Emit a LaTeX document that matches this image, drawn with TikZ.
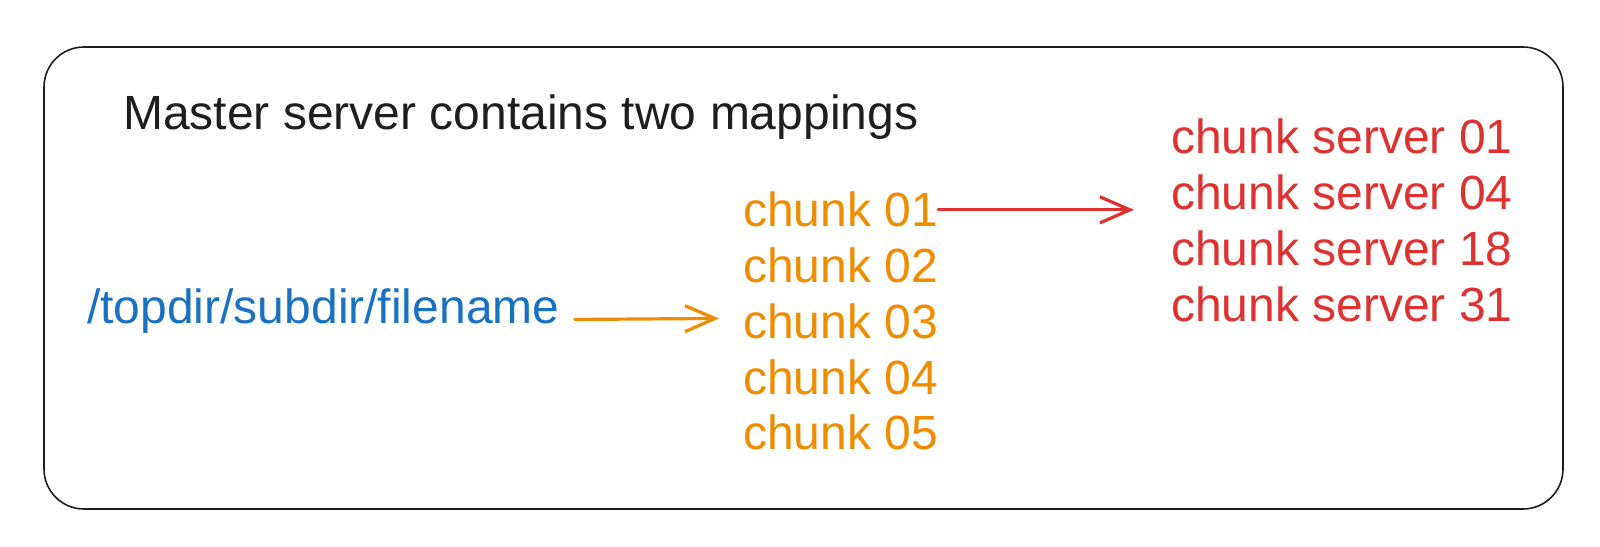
\documentclass[tikz,border=0pt]{standalone}
\usepackage{fontspec}
\setmainfont{Liberation Sans}
\usetikzlibrary{positioning, arrows.meta}
\definecolor{inkgray}{HTML}{1E1E1E}
\definecolor{pathblue}{HTML}{1971C2}
\definecolor{chunkorange}{HTML}{F08C00}
\definecolor{serverred}{HTML}{E03131}
\tikzset{every node/.style={node distance=55.7pt}}

\begin{document}
\begin{tikzpicture}[x=1pt, y=1pt,
    entry/.style={inner sep=0, anchor=base west, font=\fontsize{48}{55.7}\selectfont},
    map/.style={line width=3.2pt, line cap=round, line join=round,
        -{Straight Barb[length=30pt, width=26pt]}}]

    \useasboundingbox (0,0) rectangle (1600,546);

    % Master box
    \draw[inkgray, line width=1.6pt, rounded corners=40pt] (44,37) rectangle (1563,499);

    % Title and file name
    \node[entry, text=inkgray] (title) at (123,416) {Master server contains two mappings};
    \node[entry, text=pathblue] (path) at (87,222) {/topdir/subdir/filename};

    % Chunks
    \node[entry, text=chunkorange] (c1) at (743,319) {chunk 01};
    \node[entry, text=chunkorange] (c2) [below=of c1.base west, anchor=base west] {chunk 02};
    \node[entry, text=chunkorange] (c3) [below=of c2.base west, anchor=base west] {chunk 03};
    \node[entry, text=chunkorange] (c4) [below=of c3.base west, anchor=base west] {chunk 04};
    \node[entry, text=chunkorange] (c5) [below=of c4.base west, anchor=base west] {chunk 05};

    % Chunk servers
    \node[entry, text=serverred] (s01) at (1171,392) {chunk server 01};
    \node[entry, text=serverred] (s04) [below=of s01.base west, anchor=base west] {chunk server 04};
    \node[entry, text=serverred] (s18) [below=of s04.base west, anchor=base west] {chunk server 18};
    \node[entry, text=serverred] (s31) [below=of s18.base west, anchor=base west] {chunk server 31};

    % Mappings
    \draw[map, chunkorange, shorten <=15pt, shorten >=24pt] ([yshift=-8pt]path.east) -- ([yshift=3pt]c3.west);
    \draw[map, serverred, shorten >=37pt] (c1.east) -- (c1.east -| s04.west);

\end{tikzpicture}
\end{document}
